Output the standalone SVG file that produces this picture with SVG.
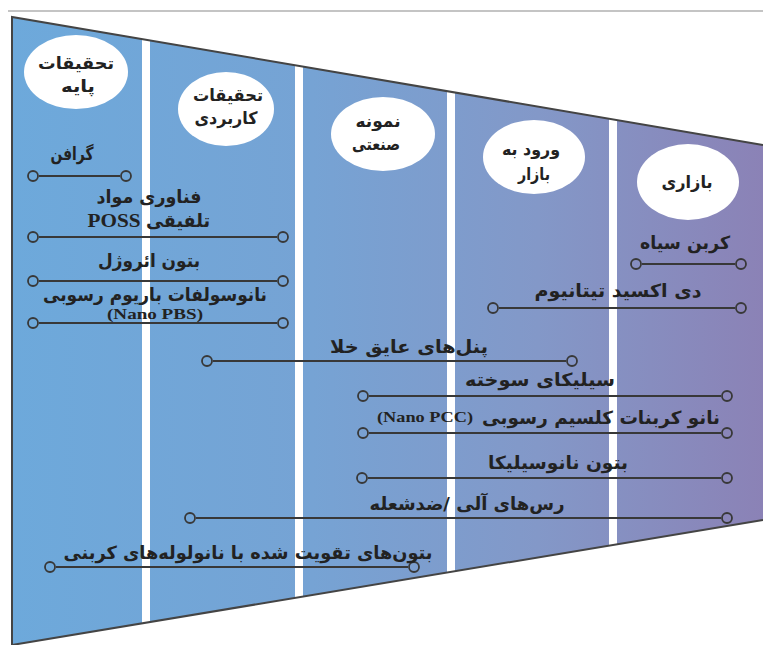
<svg xmlns="http://www.w3.org/2000/svg" width="763" height="645" viewBox="0 0 763 645">
<defs>
<linearGradient id="bg" gradientUnits="userSpaceOnUse" x1="12" y1="0" x2="763" y2="0">
<stop offset="0" stop-color="#6da9db"/>
<stop offset="0.4" stop-color="#76a3d4"/>
<stop offset="0.7" stop-color="#8398c8"/>
<stop offset="1" stop-color="#8b82b6"/>
</linearGradient>
<clipPath id="trap"><polygon points="12,17 763,145 763,520 12,645"/></clipPath>
<marker id="dot" markerUnits="userSpaceOnUse" markerWidth="16" markerHeight="16" viewBox="-1 -8 16 16" refX="0" refY="0" orient="auto-start-reverse">
<circle cx="6" cy="0" r="5" fill="none" stroke="#383838" stroke-width="1.8"/>
</marker>
</defs>
<style>
.stage{fill:#ffffff}
.t{font-family:'DejaVu Sans',sans-serif;font-weight:bold;fill:#222222;text-anchor:middle}
.lbl{font-size:18px}
.st{font-size:17px}
.lat{font-family:'Liberation Serif',serif;font-weight:bold}
.con{stroke:#383838;stroke-width:2;fill:none;marker-start:url(#dot);marker-end:url(#dot)}
</style>
<rect width="763" height="645" fill="#ffffff"/>
<line x1="8" y1="11" x2="763" y2="11" stroke="#b0b0b0" stroke-width="1.5"/>
<g id="background">
<polygon points="12,17 763,145 763,520 12,645" fill="url(#bg)"/>
<g clip-path="url(#trap)" fill="#ffffff">
<rect x="142" y="0" width="8" height="645"/>
<rect x="295" y="0" width="8" height="645"/>
<rect x="447" y="0" width="8" height="645"/>
<rect x="609" y="0" width="8" height="645"/>
</g>
<polyline points="763,145 12,17 12,645" fill="none" stroke="#444444" stroke-width="2"/>
<line x1="12" y1="645" x2="763" y2="520" stroke="#444444" stroke-width="2"/>
</g>
<g id="stage-basic">
<ellipse class="stage" cx="76" cy="72" rx="52" ry="37"/>
<text class="t st" direction="rtl" x="76" y="69" textLength="76" lengthAdjust="spacingAndGlyphs">تحقیقات</text>
<text class="t st" direction="rtl" x="78" y="92" textLength="34" lengthAdjust="spacingAndGlyphs">پایه</text>
</g>
<g id="stage-applied">
<ellipse class="stage" cx="226" cy="109" rx="48" ry="37"/>
<text class="t st" direction="rtl" x="228" y="101" textLength="70" lengthAdjust="spacingAndGlyphs">تحقیقات</text>
<text class="t st" direction="rtl" x="226" y="124" textLength="63" lengthAdjust="spacingAndGlyphs">کاربردی</text>
</g>
<g id="stage-prototype">
<ellipse class="stage" cx="383" cy="134" rx="52" ry="37"/>
<text class="t st" direction="rtl" x="378" y="127" textLength="45" lengthAdjust="spacingAndGlyphs">نمونه</text>
<text class="t st" direction="rtl" x="376" y="150" textLength="48" lengthAdjust="spacingAndGlyphs">صنعتی</text>
</g>
<g id="stage-entry">
<ellipse class="stage" cx="534" cy="157" rx="51" ry="37"/>
<text class="t st" direction="rtl" x="531" y="155" textLength="58" lengthAdjust="spacingAndGlyphs">ورود به</text>
<text class="t st" direction="rtl" x="534" y="180" textLength="32" lengthAdjust="spacingAndGlyphs">بازار</text>
</g>
<g id="stage-market">
<ellipse class="stage" cx="688" cy="182" rx="51" ry="38"/>
<text class="t st" direction="rtl" x="687" y="188" textLength="51" lengthAdjust="spacingAndGlyphs">بازاری</text>
</g>
<g id="connectors">
<line class="con" x1="39" y1="176" x2="120" y2="176"/>
<line class="con" x1="39" y1="237" x2="277" y2="237"/>
<line class="con" x1="39" y1="281" x2="277" y2="281"/>
<line class="con" x1="39" y1="323" x2="277" y2="323"/>
<line class="con" x1="642" y1="264" x2="735" y2="264"/>
<line class="con" x1="499" y1="308" x2="735" y2="308"/>
<line class="con" x1="213" y1="361" x2="566" y2="361"/>
<line class="con" x1="369" y1="396" x2="721" y2="396"/>
<line class="con" x1="369" y1="433" x2="721" y2="433"/>
<line class="con" x1="368" y1="478" x2="721" y2="478"/>
<line class="con" x1="196" y1="518" x2="721" y2="518"/>
<line class="con" x1="56" y1="567" x2="408" y2="567"/>
</g>
<g id="item-graphene"><text class="t lbl" direction="rtl" x="72" y="160" textLength="43" lengthAdjust="spacingAndGlyphs">گرافن</text></g>
<g id="item-poss">
<text class="t lbl" direction="rtl" x="149" y="203" textLength="105" lengthAdjust="spacingAndGlyphs">فناوری مواد</text>
<text class="t lbl" direction="rtl" x="178" y="227" textLength="64" lengthAdjust="spacingAndGlyphs">تلفیقی</text>
<text class="t lat" direction="ltr" x="114" y="227" font-size="19" textLength="53" lengthAdjust="spacingAndGlyphs">POSS</text>
</g>
<g id="item-aerogel"><text class="t lbl" direction="rtl" x="149" y="267" textLength="102" lengthAdjust="spacingAndGlyphs">بتون ائروژل</text></g>
<g id="item-pbs">
<text class="t lbl" direction="rtl" x="155" y="301" textLength="224" lengthAdjust="spacingAndGlyphs">نانوسولفات باریوم رسوبی</text>
<text class="t lat" direction="ltr" x="155" y="319" font-size="14" textLength="96" lengthAdjust="spacingAndGlyphs">(Nano PBS)</text>
</g>
<g id="item-carbonblack"><text class="t lbl" direction="rtl" x="685" y="249" textLength="90" lengthAdjust="spacingAndGlyphs">کربن سیاه</text></g>
<g id="item-tio2"><text class="t lbl" direction="rtl" x="618" y="297" textLength="167" lengthAdjust="spacingAndGlyphs">دی اکسید تیتانیوم</text></g>
<g id="item-vip"><text class="t lbl" direction="rtl" x="409" y="353" textLength="158" lengthAdjust="spacingAndGlyphs">پنل‌های عایق خلا</text></g>
<g id="item-fumedsilica"><text class="t lbl" direction="rtl" x="540" y="386" textLength="150" lengthAdjust="spacingAndGlyphs">سیلیکای سوخته</text></g>
<g id="item-pcc">
<text class="t lbl" direction="rtl" x="601" y="424" textLength="238" lengthAdjust="spacingAndGlyphs">نانو کربنات کلسیم رسوبی</text>
<text class="t lat" direction="ltr" x="425" y="422" font-size="14" textLength="96" lengthAdjust="spacingAndGlyphs">(Nano PCC)</text>
</g>
<g id="item-nanosilica"><text class="t lbl" direction="rtl" x="558" y="469" textLength="140" lengthAdjust="spacingAndGlyphs">بتون نانوسیلیکا</text></g>
<g id="item-clay"><text class="t lbl" direction="rtl" x="467" y="510" textLength="195" lengthAdjust="spacingAndGlyphs">رس‌های آلی /ضدشعله</text></g>
<g id="item-cnt"><text class="t lbl" direction="rtl" x="248" y="559" textLength="369" lengthAdjust="spacingAndGlyphs">بتون‌های تقویت شده با نانولوله‌های کربنی</text></g>
</svg>
